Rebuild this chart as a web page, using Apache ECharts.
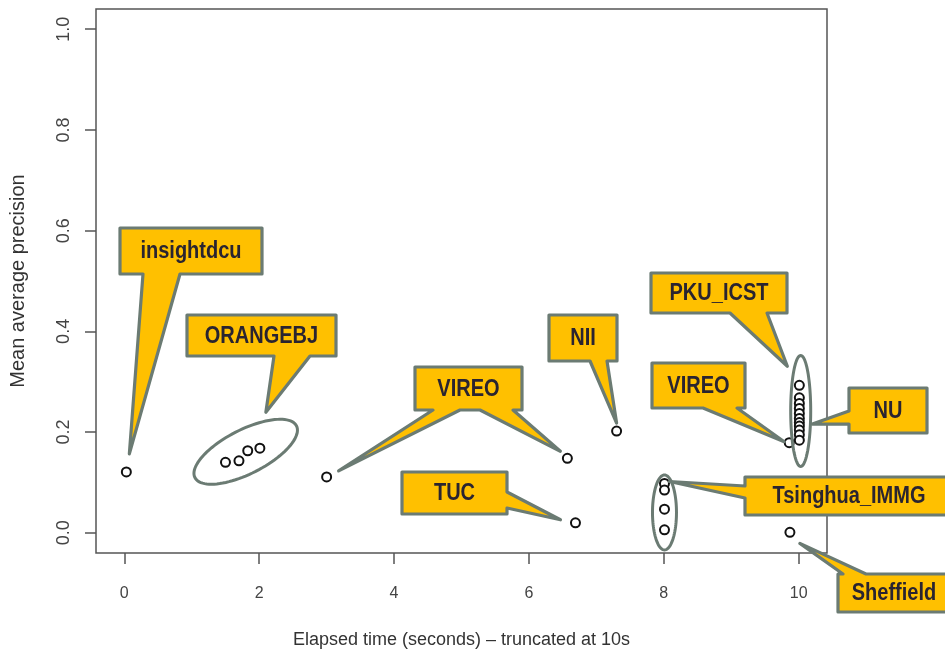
<!DOCTYPE html>
<html>
<head>
<meta charset="utf-8">
<script src="https://cdn.jsdelivr.net/npm/echarts@6/dist/echarts.min.js"></script>
<style>
html,body{margin:0;padding:0;background:#fff;}
#chart{width:945px;height:664px;}
</style>
</head>
<body>
<div id="chart"></div>
<script>
// ---- data ----
const teamNames = ['insightdcu',
  'ORANGEBJ','ORANGEBJ','ORANGEBJ','ORANGEBJ',
  'VIREO','VIREO','TUC','NII',
  'Tsinghua_IMMG','Tsinghua_IMMG','Tsinghua_IMMG','Tsinghua_IMMG',
  'VIREO',
  'PKU_ICST/NU','PKU_ICST/NU','PKU_ICST/NU','PKU_ICST/NU','PKU_ICST/NU','PKU_ICST/NU',
  'PKU_ICST/NU','PKU_ICST/NU','PKU_ICST/NU','PKU_ICST/NU','PKU_ICST/NU',
  'Sheffield'];
const elapsedTime = [0.03,
  1.50, 1.70, 1.83, 2.01,
  3.00, 6.57, 6.69, 7.30,
  8.01, 8.01, 8.01, 8.01,
  9.86,
  10.01, 10.01, 10.01, 10.01, 10.01, 10.01,
  10.01, 10.01, 10.01, 10.01, 10.01,
  9.87];
const meanAvgPrecision = [0.121,
  0.140, 0.143, 0.163, 0.168,
  0.111, 0.148, 0.020, 0.202,
  0.098, 0.085, 0.047, 0.006,
  0.179,
  0.293, 0.268, 0.257, 0.247, 0.237, 0.227,
  0.219, 0.212, 0.204, 0.195, 0.184,
  0.001];
const xTickValues = [0, 2, 4, 6, 8, 10];
const yTickValues = [0.0, 0.2, 0.4, 0.6, 0.8, 1.0];

// ---- annotation layout (callouts and ellipses) ----
const callouts = [
  {text:'insightdcu', box:[120,228,262,274], ptrs:[{edge:'bottom',a:143,b:180,at:0,dx:3,dy:-18}]},
  {text:'ORANGEBJ', box:[187,315,336,356], ptrs:[{edge:'bottom',a:274,b:310,at:4,dx:6,dy:-36}]},
  {text:'VIREO', box:[415,367,522,410], ptrs:[{edge:'bottom',a:433,b:460,at:5,dx:12,dy:-6},{edge:'bottom',a:480,b:513,at:6,dx:-7,dy:-7}]},
  {text:'NII', box:[549,315,617,361], ptrs:[{edge:'bottom',a:590,b:607,at:8,dx:0,dy:-8}]},
  {text:'PKU_ICST', box:[651,273,787,313], ptrs:[{edge:'bottom',a:730,b:767,at:14,dx:-12,dy:-19}]},
  {text:'VIREO', box:[652,363,745,408], ptrs:[{edge:'bottom',a:703,b:737,at:13,dx:-5,dy:-1}]},
  {text:'NU', box:[849,388,927,433], ptrs:[{edge:'left',a:411,b:424,at:21,dx:13,dy:-2}]},
  {text:'TUC', box:[402,472,507,514], ptrs:[{edge:'right',a:492,b:508,at:7,dx:-15,dy:-3}]},
  {text:'Tsinghua_IMMG', box:[745,477,953,515], ptrs:[{edge:'left',a:486,b:498,at:9,dx:5,dy:-2}]},
  {text:'Sheffield', box:[838,574,950,612], ptrs:[{edge:'top',a:843,b:866,at:25,dx:10,dy:11}]}
];
const ellipses = [
  {cx:1.80, cy:0.161, rx:57, ry:22, angle:-27},
  {cx:8.01, cy:0.0405, rx:12, ry:37.5, angle:0},
  {cx:10.03, cy:0.242, rx:10, ry:55.5, angle:0}
];

const chart = echarts.init(document.getElementById('chart'), null, {renderer:'canvas'});
const axisGray = '#555';
const font = '"Liberation Sans", Arial, Helvetica, sans-serif';

chart.setOption({
  animation: false,
  backgroundColor: '#fff',
  grid: {left:95, right:118, top:9, bottom:111, show:true, borderColor:axisGray, borderWidth:1.5, backgroundColor:'transparent'},
  xAxis: {
    type:'value', min:-0.42, max:10.42,
    splitLine:{show:false}, axisLine:{show:false, onZero:false},
    axisTick:{show:true, inside:false, length:11, lineStyle:{color:axisGray, width:1.5}, customValues:xTickValues},
    axisLabel:{show:true, customValues:xTickValues, margin:33, fontSize:16, color:'#444', fontFamily:font, formatter:v=>String(v)},
    name:'Elapsed time (seconds) \u2013 truncated at 10s', nameLocation:'middle', nameGap:78,
    nameTextStyle:{fontSize:18, color:'#333', fontFamily:font}
  },
  yAxis: {
    type:'value', min:-0.04, max:1.04,
    splitLine:{show:false}, axisLine:{show:false, onZero:false},
    axisTick:{show:true, inside:false, length:11, lineStyle:{color:axisGray, width:1.5}, customValues:yTickValues},
    axisLabel:{show:true, customValues:yTickValues, rotate:90, margin:23, fontSize:18, color:'#444', fontFamily:font, formatter:v=>v.toFixed(1)},
    name:'Mean average precision', nameLocation:'middle', nameGap:68,
    nameTextStyle:{fontSize:20, color:'#333', fontFamily:font}
  },
  series: [{
    type:'scatter', symbol:'emptyCircle', symbolSize:9,
    itemStyle:{color:'#111', borderColor:'#111', borderWidth:2.4, opacity:1},
    data: elapsedTime.map((x,i)=>({value:[x, meanAvgPrecision[i]], name:teamNames[i]})),
    z:3
  }]
});

function px(i){ return chart.convertToPixel({gridIndex:0}, [elapsedTime[i], meanAvgPrecision[i]]); }

function calloutPoints(c){
  const [x1,y1,x2,y2] = c.box;
  const tipOf = p => { const q = px(p.at); return [q[0]+p.dx, q[1]+p.dy]; };
  const by = e => c.ptrs.filter(p=>p.edge===e);
  const pts = [[x1,y1]];
  by('top').sort((a,b)=>a.a-b.a).forEach(p=>{pts.push([p.a,y1], tipOf(p), [p.b,y1]);});
  pts.push([x2,y1]);
  by('right').sort((a,b)=>a.a-b.a).forEach(p=>{pts.push([x2,p.a], tipOf(p), [x2,p.b]);});
  pts.push([x2,y2]);
  by('bottom').sort((a,b)=>b.a-a.a).forEach(p=>{pts.push([p.b,y2], tipOf(p), [p.a,y2]);});
  pts.push([x1,y2]);
  by('left').sort((a,b)=>b.a-a.a).forEach(p=>{pts.push([x1,p.b], tipOf(p), [x1,p.a]);});
  return pts;
}

function ellipsePoints(e){
  const c = chart.convertToPixel({gridIndex:0}, [e.cx, e.cy]);
  const t = e.angle*Math.PI/180, pts=[];
  for (let k=0;k<96;k++){
    const a = k/96*2*Math.PI;
    const ex = e.rx*Math.cos(a), ey = e.ry*Math.sin(a);
    pts.push([c[0]+ex*Math.cos(t)-ey*Math.sin(t), c[1]+ex*Math.sin(t)+ey*Math.cos(t)]);
  }
  return pts;
}

const elements = [];
ellipses.forEach(e=>{
  elements.push({type:'polygon', z:10, shape:{points:ellipsePoints(e)}, style:{fill:'none', stroke:'#6B7B73', lineWidth:3}});
});
callouts.forEach(c=>{
  elements.push({type:'polygon', z:11, shape:{points:calloutPoints(c)},
    style:{fill:'#FFC000', stroke:'#6B7B73', lineWidth:3.2, lineJoin:'round'}});
  const cx=(c.box[0]+c.box[2])/2, cy=(c.box[1]+c.box[3])/2;
  elements.push({type:'text', z:12, x:cx, y:cy+1, scaleX:0.87,
    style:{text:c.text, x:0, y:0, align:'center', verticalAlign:'middle',
      font:'bold 23px "Liberation Sans", Arial, sans-serif', fill:'#2A2430'}});
});
chart.setOption({graphic:{elements}});
</script>
</body>
</html>
